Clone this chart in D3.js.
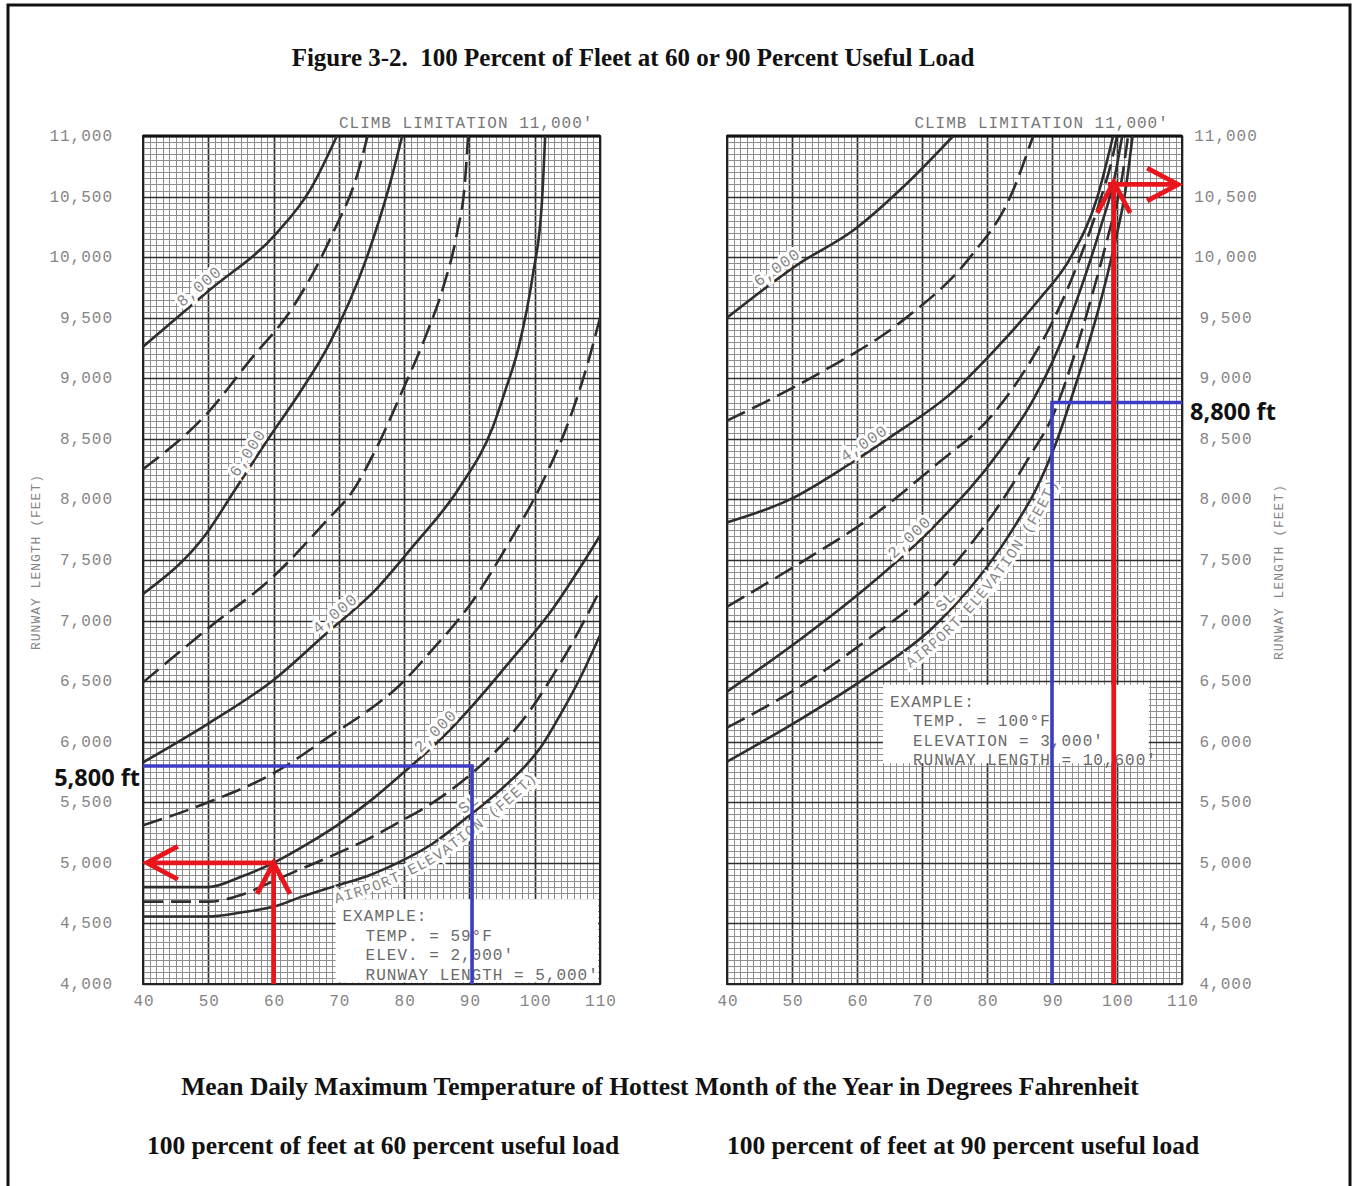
<!DOCTYPE html>
<html>
<head>
<meta charset="utf-8">
<script src="https://cdn.jsdelivr.net/npm/d3@7"></script>
<style>
  html, body { margin: 0; padding: 0; background: #fff; }
  svg { display: block; }
  .mono { font-family: "Liberation Mono", "DejaVu Sans Mono", monospace; letter-spacing: 1px; }
  .serif { font-family: "Liberation Serif", "Times New Roman", serif; font-weight: bold; white-space: pre; }
</style>
</head>
<body>
<svg id="chart" width="1353" height="1186"></svg>
<script>
// ---------- axis values ----------
const tempTicks = [40, 50, 60, 70, 80, 90, 100, 110];
const lengthTicks = [4000, 4500, 5000, 5500, 6000, 6500, 7000, 7500, 8000, 8500, 9000, 9500, 10000, 10500, 11000];

// ---------- 60 percent useful load: [temperature °F, runway length ft] per airport elevation ----------
const load60_SL   = [[40,4557],[50,4557],[55,4590],[60.5,4645],[64,4715],[69.5,4810],[74.3,4890],[79,5000],[84.4,5160],[89.5,5370],[94.7,5600],[97.5,5740],[101,5960],[104,6230],[107,6530],[110,6880]];
const load60_1000 = [[40,4680],[50,4680],[55,4735],[60.5,4862],[64,4945],[69,5060],[74.3,5192],[79,5330],[84.4,5497],[90.5,5745],[95.7,6017],[99.7,6290],[101.9,6470],[106,6840],[110,7250]];
const load60_2000 = [[40,4800],[50,4800],[55,4885],[60,5000],[65,5150],[70,5320],[75,5520],[80,5750],[85,5990],[90,6270],[95.7,6630],[102.8,7100],[110,7700]];
const load60_3000 = [[40,5310],[50,5500],[60,5740],[69,6060],[74.3,6250],[79.4,6470],[84,6740],[90.6,7170],[95.7,7610],[100.8,8100],[104.9,8600],[108,9100],[110,9500]];
const load60_4000 = [[40,5830],[50,6150],[60,6510],[68.2,6900],[75.2,7230],[81.3,7610],[88.5,8100],[93.6,8600],[95.5,8900],[97.6,9270],[99.7,9850],[101.1,10450],[101.6,11000]];
const load60_5000 = [[40,6490],[50.3,6950],[59.9,7360],[68.2,7830],[72,8060],[76,8450],[79.8,8905],[83.5,9375],[86,9754],[88.1,10200],[89.3,10612],[89.8,11000]];
const load60_6000 = [[40,7220],[49.8,7725],[53.8,8055],[59.4,8517],[64,8880],[68.5,9280],[74.3,10000],[77.8,10600],[79.7,11000]];
const load60_7000 = [[40,8250],[50,8720],[56.4,9150],[63,9590],[69.1,10200],[72.9,10695],[74.4,11000]];
const load60_8000 = [[40,9260],[50,9720],[60.5,10200],[65.6,10555],[69.7,11000]];

// ---------- 90 percent useful load ----------
const load90_SL   = [[40,5835],[51.2,6182],[61.6,6537],[71.8,6949],[82.1,7600],[84.5,7800],[87.5,8080],[90.5,8450],[93.9,8990],[97.3,9600],[99.6,10100],[101.3,10550],[102.4,11000]];
const load90_1000 = [[40,6116],[51.2,6454],[61.6,6842],[71.8,7279],[82.1,7972],[86.5,8350],[90.2,8700],[93.5,9200],[96.5,9750],[99,10250],[100.6,10600],[101.7,11000]];
const load90_2000 = [[40,6413],[51.2,6842],[61.6,7279],[71.8,7774],[82.1,8410],[87.1,8822],[91,9250],[94.5,9750],[97.5,10250],[99.6,10650],[100.8,11000]];
const load90_3000 = [[40,7114],[51.3,7477],[61.6,7832],[71.8,8270],[81.1,8715],[86,9080],[90.2,9480],[94,9950],[97.3,10450],[99.2,10800],[100,11000]];
const load90_4000 = [[40,7810],[49.7,8000],[58.5,8280],[64.7,8500],[75,8900],[82,9280],[88,9650],[92.9,10000],[97,10500],[99.4,11000]];
const load90_5000 = [[40,8650],[54.3,9045],[67.1,9480],[77.4,10000],[83.6,10500],[87.1,11000]];
const load90_6000 = [[40,9500],[51.2,9950],[59.4,10220],[67.7,10610],[74.8,11000]];

// ---------- worked examples ----------
const example60Text = ["EXAMPLE:", "TEMP. = 59\u00B0F", "ELEV. = 2,000'", "RUNWAY LENGTH = 5,000'"];
const example90Text = ["EXAMPLE:", "TEMP. = 100\u00B0F", "ELEVATION = 3,000'", "RUNWAY LENGTH = 10,600'"];
const readout60Up   = [[60,4000],[60,5000]];
const readout60Left = [[60,5000],[40.6,5000]];
const readout90Up   = [[99.5,4000],[99.5,10620]];
const readout90Right= [[98.6,10600],[109.4,10600]];
const guide60 = [[40,5800],[90.4,5800],[90.4,4000]];
const guide90 = [[90,4000],[90,8800],[110,8800]];

const fmt = d3.format(",");
const svg = d3.select("#chart");
const RED = "#e8161c", BLUE = "#3c3cc4", INK = "#2e2e2e";
const GREY = "#858585";

// outer frame
svg.append("rect").attr("x", 8).attr("y", 5).attr("width", 1342).attr("height", 1200)
  .attr("fill", "#fff").attr("stroke", "#111").attr("stroke-width", 3);

function curveSet(list) {
  return list.map(([pts, dashed]) => ({ pts, dashed }));
}

const panels = [
  {
    range: [143, 600],
    curves: curveSet([[load60_SL,false],[load60_1000,true],[load60_2000,false],[load60_3000,true],[load60_4000,false],
                      [load60_5000,true],[load60_6000,false],[load60_7000,true],[load60_8000,false]]),
    labels: [["8,000", load60_8000, 49.5], ["6,000", load60_6000, 57.2], ["4,000", load60_4000, 70.3],
             ["2,000", load60_2000, 85.8], ["SL", load60_SL, 90.7]],
    airportText: [load60_SL, 68.5],
    box: { t0: 69.5, t1: 110, l0: 4000, l1: 4700, text: example60Text },
    climbAt: 89.5,
    axisSide: "left",
    arrows: [readout60Up, readout60Left],
    guide: guide60, guideLabel: "5,800 ft", guideValue: 5800
  },
  {
    range: [727, 1182],
    curves: curveSet([[load90_SL,false],[load90_1000,true],[load90_2000,false],[load90_3000,true],[load90_4000,false],
                      [load90_5000,true],[load90_6000,false]]),
    labels: [["6,000", load90_6000, 48.5], ["4,000", load90_4000, 62], ["2,000", load90_2000, 69.1], ["SL", load90_SL, 74.8]],
    airportText: [load90_SL, 66.5],
    box: { t0: 64, t1: 105.2, l0: 5810, l1: 6470, text: example90Text },
    climbAt: 88.4,
    axisSide: "right",
    arrows: [readout90Up, readout90Right],
    guide: guide90, guideLabel: "8,800 ft", guideValue: 8800
  }
];

panels.forEach((p, pi) => {
  const x = d3.scaleLinear().domain([40, 110]).range(p.range);
  const y = d3.scaleLinear().domain([4000, 11000]).range([984, 136]);
  const g = svg.append("g");
  const clipId = "clip" + pi;
  svg.append("clipPath").attr("id", clipId).append("rect")
    .attr("x", x(40)).attr("y", y(11000)).attr("width", x(110) - x(40)).attr("height", y(4000) - y(11000));

  // graph-paper grid: 1 °F and 50 ft steps, heavier every 10 °F and 500 ft
  const gridT = d3.range(40, 110.001, 1);
  const gridL = d3.range(4000, 11000.1, 50);
  const grid = g.append("g");
  grid.selectAll(".gv").data(gridT).join("line")
    .attr("x1", d => Math.round(x(d)) + 0.5).attr("x2", d => Math.round(x(d)) + 0.5)
    .attr("y1", y(4000)).attr("y2", y(11000))
    .attr("stroke", d => Math.round(d) % 10 === 0 ? "#2e2e2e" : "#8e8e8e")
    .attr("stroke-width", d => Math.round(d) % 10 === 0 ? 1.7 : 1);
  grid.selectAll(".gh").data(gridL).join("line")
    .attr("y1", d => Math.round(y(d)) + 0.5).attr("y2", d => Math.round(y(d)) + 0.5)
    .attr("x1", x(40)).attr("x2", x(110))
    .attr("stroke", d => Math.round(d) % 500 === 0 ? "#2e2e2e" : "#8e8e8e")
    .attr("stroke-width", d => Math.round(d) % 500 === 0 ? 1.7 : 1);

  // example box knocks the grid out
  const b = p.box;
  g.append("rect").attr("x", x(b.t0)).attr("y", y(b.l1))
    .attr("width", x(b.t1) - x(b.t0) - 2).attr("height", y(b.l0) - y(b.l1) - 1.5).attr("fill", "#fff");
  b.text.forEach((t, i) => {
    g.append("text").attr("class", "mono")
      .attr("x", x(b.t0) + (i === 0 ? 7 : 30)).attr("y", y(b.l1) + 22 + i * 19.5)
      .attr("font-size", 16).attr("fill", "#6a6a6a").text(t);
  });

  // frame, heavy top edge = climb limitation
  g.append("rect").attr("x", x(40)).attr("y", y(11000)).attr("width", x(110) - x(40)).attr("height", y(4000) - y(11000))
    .attr("fill", "none").attr("stroke", "#222").attr("stroke-width", 2);
  g.append("line").attr("x1", x(40)).attr("x2", x(110)).attr("y1", y(11000)).attr("y2", y(11000))
    .attr("stroke", "#111").attr("stroke-width", 3);

  // elevation curves
  const line = d3.line().x(d => x(d[0])).y(d => y(d[1])).curve(d3.curveMonotoneX);
  const cg = g.append("g").attr("clip-path", `url(#${clipId})`);
  p.curves.forEach(c => {
    cg.append("path").attr("d", line(c.pts)).attr("fill", "none")
      .attr("stroke", INK).attr("stroke-width", 2.6)
      .attr("stroke-dasharray", c.dashed ? "20,8" : null);
  });

  // sample a drawn curve in pixel space
  function samples(pts) {
    const tmp = svg.append("path").attr("d", line(pts)).attr("visibility", "hidden");
    const node = tmp.node(), len = node.getTotalLength();
    const out = d3.range(0, len, 2).map(s => node.getPointAtLength(s));
    out.push(node.getPointAtLength(len));
    tmp.remove();
    return out.map(pt => [pt.x, pt.y]);
  }
  function pointAt(pts, t) {
    const s = samples(pts), tx = x(t);
    let i = d3.leastIndex(s, q => Math.abs(q[0] - tx));
    i = Math.max(1, Math.min(s.length - 2, i));
    const a = s[i - 1], c = s[i + 1];
    const ang = Math.atan2(c[1] - a[1], c[0] - a[0]);
    return { p: s[i], ang };
  }

  // curve labels sit just above their line with a white knock-out
  p.labels.forEach(([txt, pts, t]) => {
    const { p: pt, ang } = pointAt(pts, t);
    const off = 10;
    const nx = -Math.sin(ang) * off, ny = Math.cos(ang) * off; // lower-right normal
    const cx = pt[0] - nx, cy = pt[1] - ny;
    g.append("text").attr("class", "mono")
      .attr("transform", `translate(${cx},${cy}) rotate(${ang * 180 / Math.PI})`)
      .attr("text-anchor", "middle").attr("dy", "0.35em")
      .attr("font-size", 16).attr("fill", GREY)
      .attr("stroke", "#fff").attr("stroke-width", 6).attr("paint-order", "stroke")
      .text(txt);
  });

  // "AIRPORT ELEVATION (FEET)" runs along the underside of the sea-level curve
  {
    const [pts, t0] = p.airportText;
    const s = samples(pts).filter(q => q[0] >= x(t0));
    const shifted = s.map((q, i) => {
      const a = s[Math.max(0, i - 1)], c = s[Math.min(s.length - 1, i + 1)];
      const ang = Math.atan2(c[1] - a[1], c[0] - a[0]);
      return [q[0] - Math.sin(ang) * 17, q[1] + Math.cos(ang) * 17];
    });
    const id = "airport" + pi;
    g.append("path").attr("id", id).attr("d", d3.line()(shifted)).attr("fill", "none");
    g.append("text").attr("class", "mono").attr("font-size", 15).attr("fill", GREY)
      .attr("stroke", "#fff").attr("stroke-width", 6).attr("paint-order", "stroke")
      .append("textPath").attr("href", "#" + id).attr("startOffset", 0)
      .text("AIRPORT ELEVATION (FEET)");
  }

  // axis tick labels
  const yLab = g.append("g");
  tempTicks.forEach(t => {
    yLab.append("text").attr("class", "mono").attr("x", x(t) + 1).attr("y", 1006)
      .attr("text-anchor", "middle").attr("font-size", 16).attr("fill", GREY).text(t);
  });
  lengthTicks.forEach(v => {
    const left = p.axisSide === "left";
    yLab.append("text").attr("class", "mono")
      .attr("x", left ? 113 : 1226).attr("y", y(v) + 5)
      .attr("text-anchor", left ? "end" : "middle")
      .attr("font-size", 16).attr("fill", GREY).text(fmt(v));
  });
  const ax = p.axisSide === "left" ? 35 : 1278, ay = p.axisSide === "left" ? 562 : 572;
  g.append("text").attr("class", "mono").attr("transform", `translate(${ax},${ay}) rotate(-90)`)
    .attr("text-anchor", "middle").attr("dy", "0.35em").attr("font-size", 13)
    .attr("letter-spacing", "1.5px").attr("fill", GREY).text("RUNWAY LENGTH (FEET)");
  g.append("text").attr("class", "mono").attr("x", x(p.climbAt)).attr("y", 128)
    .attr("text-anchor", "middle").attr("font-size", 16).attr("fill", "#777").text("CLIMB LIMITATION 11,000'");

  // blue read-off guide
  const pl = d3.line().x(d => x(d[0])).y(d => y(d[1]));
  g.append("path").attr("d", pl(p.guide)).attr("fill", "none").attr("stroke", BLUE).attr("stroke-width", 3.6);
  if (p.axisSide === "left") {
    g.append("text").attr("x", x(40) - 3).attr("y", y(p.guideValue) + 20).attr("text-anchor", "end")
      .attr("font-family", "'Open Sans', 'Liberation Sans', sans-serif").attr("font-weight", "bold")
      .attr("font-size", 23.5).attr("fill", "#111").text(p.guideLabel);
  } else {
    g.append("text").attr("x", x(110) + 8).attr("y", y(p.guideValue) + 17).attr("text-anchor", "start")
      .attr("font-family", "'Open Sans', 'Liberation Sans', sans-serif").attr("font-weight", "bold")
      .attr("font-size", 23.5).attr("fill", "#111").text(p.guideLabel);
  }

  // red read-off arrows
  p.arrows.forEach(pts => {
    g.append("path").attr("d", pl(pts)).attr("fill", "none").attr("stroke", RED).attr("stroke-width", 4.8);
    const a = pts[pts.length - 2], c = pts[pts.length - 1];
    const bx = x(c[0]), by = y(c[1]);
    const ang = Math.atan2(by - y(a[1]), bx - x(a[0]));
    const len = 35, spread = 28 * Math.PI / 180;
    const p1 = [bx - len * Math.cos(ang - spread), by - len * Math.sin(ang - spread)];
    const p2 = [bx - len * Math.cos(ang + spread), by - len * Math.sin(ang + spread)];
    g.append("path").attr("d", `M${p1}L${bx},${by}L${p2}`).attr("fill", "none")
      .attr("stroke", RED).attr("stroke-width", 4.8).attr("stroke-linejoin", "miter");
  });
});

// titles
svg.append("text").attr("class", "serif").attr("x", 633).attr("y", 66).attr("text-anchor", "middle")
  .attr("font-size", 25).attr("fill", "#111")
  .text("Figure 3-2.  100 Percent of Fleet at 60 or 90 Percent Useful Load");
svg.append("text").attr("class", "serif").attr("x", 660).attr("y", 1095).attr("text-anchor", "middle")
  .attr("font-size", 25.5).attr("fill", "#111")
  .text("Mean Daily Maximum Temperature of Hottest Month of the Year in Degrees Fahrenheit");
svg.append("text").attr("class", "serif").attr("x", 383).attr("y", 1154).attr("text-anchor", "middle")
  .attr("font-size", 25.5).attr("fill", "#111").text("100 percent of feet at 60 percent useful load");
svg.append("text").attr("class", "serif").attr("x", 963).attr("y", 1154).attr("text-anchor", "middle")
  .attr("font-size", 25.5).attr("fill", "#111").text("100 percent of feet at 90 percent useful load");
</script>
</body>
</html>
